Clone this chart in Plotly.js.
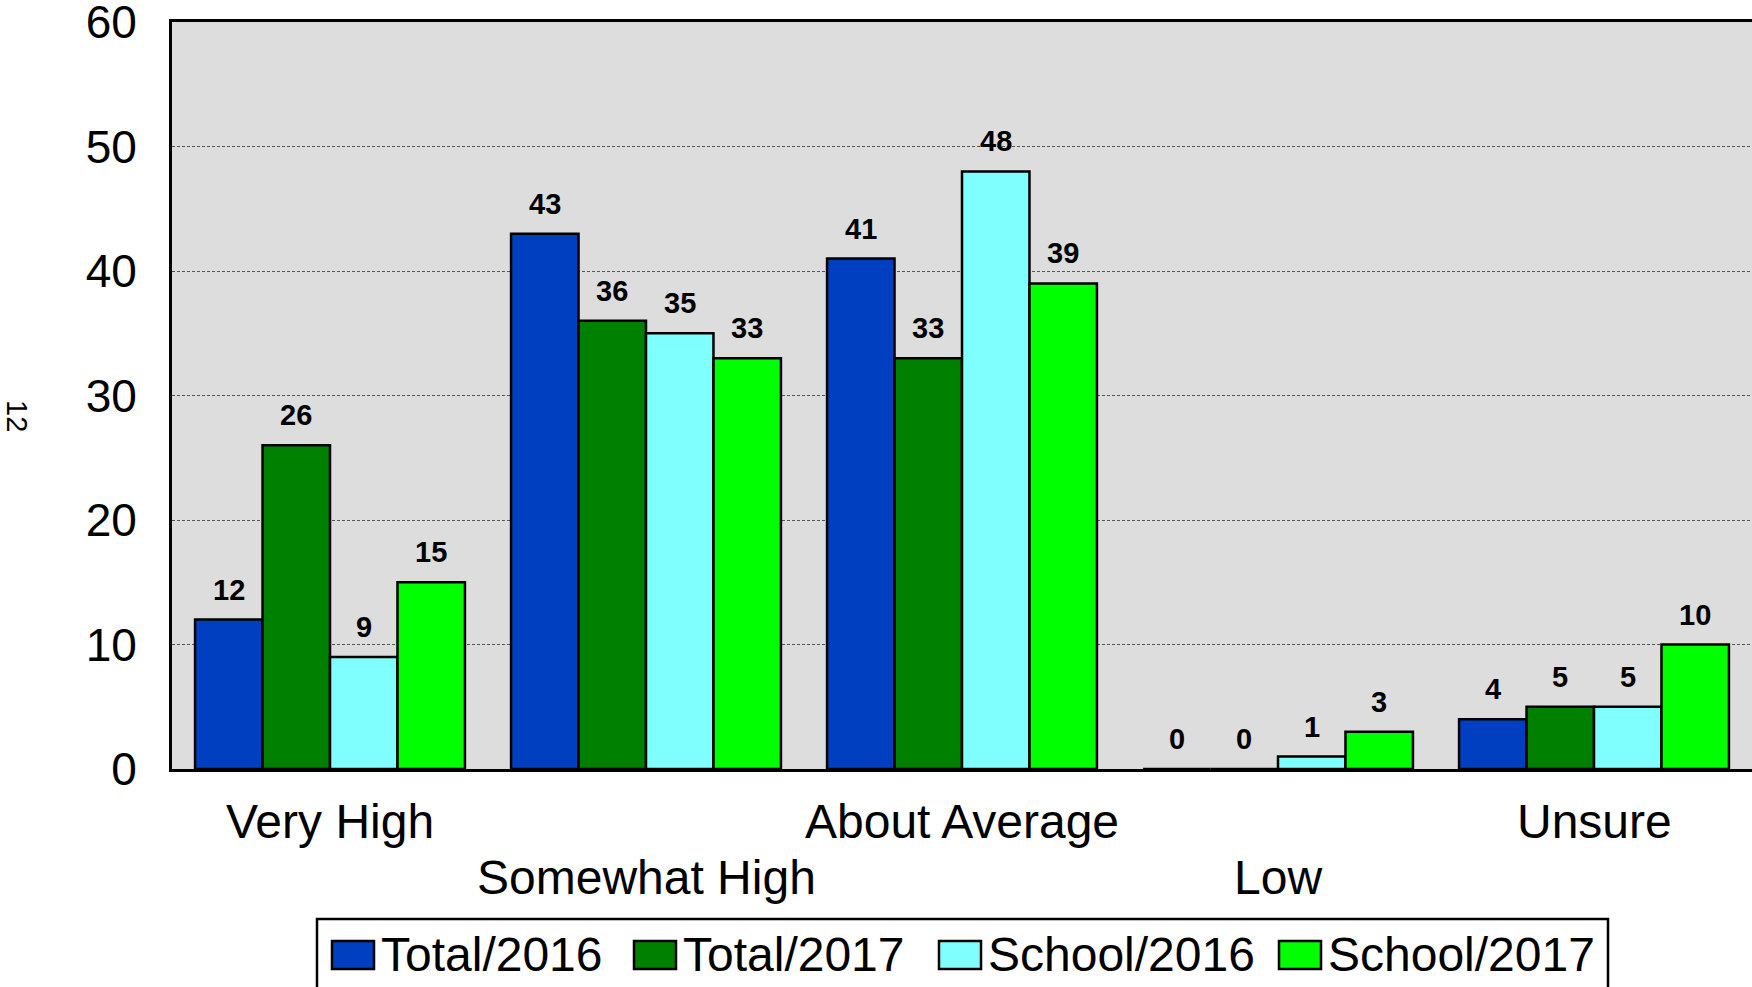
<!DOCTYPE html>
<html>
<head>
<meta charset="utf-8">
<script src="https://cdn.plot.ly/plotly-3.0.1.min.js"></script>
<style>
html,body{margin:0;padding:0;background:#fff;}
#chart{width:1752px;height:987px;}
</style>
</head>
<body>
<div id="chart"></div>
<script>
// ---- data ----
const categories = ['Very High', 'Somewhat High', 'About Average', 'Low', 'Unsure'];
const seriesNames = ['Total/2016', 'Total/2017', 'School/2016', 'School/2017'];
const total2016 = [12, 43, 41, 0, 4];
const total2017 = [26, 36, 33, 0, 5];
const school2016 = [9, 35, 48, 1, 5];
const school2017 = [15, 33, 39, 3, 10];
const sideLabel = '12';

// ---- styles ----
const seriesValues = [total2016, total2017, school2016, school2017];
const seriesColors = ['#0040C0', '#008000', '#80FFFF', '#00FF00'];
const FONT = 'Arial, "Liberation Sans", sans-serif';
const BARGAP = 0.146;

// plot area in pixels (for placing the custom legend / side label)
const W = 1752, H = 987;
const M = {l: 172, r: 0, t: 22, b: 218};
const pw = W - M.l - M.r, ph = H - M.t - M.b;
const px2x = p => (p - M.l) / pw;
const py2y = p => (H - M.b - p) / ph;

const traces = seriesValues.map((vals, i) => ({
  type: 'bar',
  name: seriesNames[i],
  x: categories,
  y: vals,
  marker: {color: seriesColors[i], line: {color: '#000', width: 2.5}},
  hoverinfo: 'x+y+name'
}));

const annotations = [];

// value labels above bars
const nS = seriesValues.length;
const bw = (1 - BARGAP) / nS;
seriesValues.forEach((vals, i) => {
  vals.forEach((v, j) => {
    annotations.push({
      x: j + (i - (nS - 1) / 2) * bw,
      y: v,
      xref: 'x', yref: 'y',
      text: String(v),
      showarrow: false,
      xanchor: 'center',
      yanchor: 'bottom',
      yshift: 12,
      font: {family: FONT, size: 29, color: '#000', weight: 'bold'}
    });
  });
});

// staggered category labels under the axis
const rowY = [821, 877];
categories.forEach((c, j) => {
  annotations.push({
    x: j, xref: 'x',
    y: py2y(rowY[j % 2]), yref: 'paper',
    text: c, showarrow: false,
    xanchor: 'center', yanchor: 'middle',
    font: {family: FONT, size: 48, color: '#000'}
  });
});

// rotated side label
annotations.push({
  xref: 'paper', yref: 'paper',
  x: px2x(17), y: py2y(416),
  xanchor: 'center', yanchor: 'middle',
  text: sideLabel, showarrow: false, textangle: 90,
  font: {family: FONT, size: 29, color: '#000'}
});

// custom legend
const shapes = [];
shapes.push({
  type: 'rect', xref: 'paper', yref: 'paper',
  x0: px2x(317), x1: px2x(1608), y0: py2y(1010), y1: py2y(919),
  line: {color: '#000', width: 2.5}, fillcolor: 'rgba(255,255,255,0)', layer: 'above'
});
const swatchLeft = [332, 634, 939, 1279];
seriesNames.forEach((nm, i) => {
  shapes.push({
    type: 'rect', xref: 'paper', yref: 'paper',
    x0: px2x(swatchLeft[i]), x1: px2x(swatchLeft[i] + 42),
    y0: py2y(969), y1: py2y(941),
    line: {color: '#000', width: 2.5}, fillcolor: seriesColors[i], layer: 'above'
  });
  annotations.push({
    xref: 'paper', yref: 'paper',
    x: px2x(swatchLeft[i] + 47), y: py2y(954),
    xanchor: 'left', yanchor: 'middle',
    text: nm, showarrow: false,
    font: {family: FONT, size: 48, color: '#000'}
  });
});

const layout = {
  width: W, height: H,
  margin: M,
  paper_bgcolor: '#FFFFFF',
  plot_bgcolor: '#DDDDDD',
  barmode: 'group',
  bargap: BARGAP,
  bargroupgap: 0,
  showlegend: false,
  font: {family: FONT, color: '#000'},
  xaxis: {
    type: 'category',
    range: [-0.5, categories.length - 0.5],
    showticklabels: false,
    ticks: '',
    showline: true, linecolor: '#000', linewidth: 3, mirror: true,
    showgrid: false, zeroline: false, fixedrange: true
  },
  yaxis: {
    range: [0, 60],
    tickmode: 'linear', tick0: 0, dtick: 10,
    tickfont: {family: FONT, size: 46, color: '#000'},
    ticks: '',
    ticklabelstandoff: 23,
    ticklabeloverflow: 'allow',
    showline: true, linecolor: '#000', linewidth: 3, mirror: false,
    showgrid: true, gridcolor: '#555555', gridwidth: 1, griddash: '3px,2px',
    zeroline: false, fixedrange: true
  },
  annotations: annotations,
  shapes: shapes
};

Plotly.newPlot('chart', traces, layout, {displayModeBar: false, staticPlot: true});
</script>
</body>
</html>
